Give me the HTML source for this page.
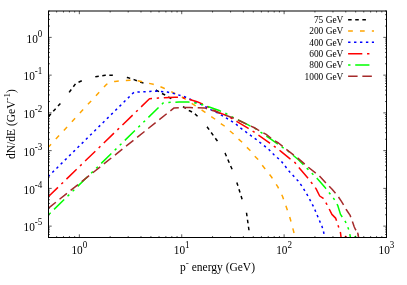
<!DOCTYPE html>
<html><head><meta charset="utf-8"><title>plot</title>
<style>html,body{margin:0;padding:0;background:#fff}svg{display:block;will-change:transform;transform:translateZ(0)}text{font-family:"Liberation Serif",serif;fill:#000}</style></head><body>
<svg width="407" height="285" viewBox="0 0 407 285">
<rect width="407" height="285" fill="#fff"/>
<defs><clipPath id="c"><rect x="48.5" y="11" width="338" height="226.5"/></clipPath></defs>
<g clip-path="url(#c)" fill="none" stroke-width="1.5" stroke-linecap="butt" stroke-linejoin="round">
<polyline points="48.5,116.5 61,102.8 69.6,91.8 75.7,83.5 81.9,80.7 95.4,76.7 105.2,75.3 112.6,75.3 120,76.3 127.4,77.5 134,79.6 143.6,83.2 150,86.5 156.5,90.3 162,93.5 165.7,95.3 171.6,98.8 183.8,107.1 189,110.5 193.7,112.8 197.5,116.2 207.2,127 217,140.5 225,153 232,169 237,183 242.1,199.2 246.5,212.7 249,230.4" stroke="#000000" stroke-dasharray="3.532 3.532 3.532 3.532 3.532 14.13" stroke-dashoffset="0"/>
<polyline points="48.5,147 106.4,84.4 110,82.5 115,81.4 125,80.6 130.3,80.3 137,80.6 141.4,81.5 148.8,83.3 153.2,84.3 159.8,86.5 163.5,88 170.9,91.4 174.6,93.3 181.6,96.8 185.3,99 191.2,103 194.9,105.4 200.8,109.3 205.2,112.3 210.4,116 214.8,119 220,123 224.4,126 229.3,130.5 233,133.5 237.9,138.5 241.6,141.8 246.5,147 250.2,150.5 254.6,156 257.6,159 262,165 264.4,168 271.5,177 277.7,186.7 282.6,196.5 286.3,207 290,218 293.7,231.6 295.1,237.6" stroke="#ffa500" stroke-dasharray="4.726 7.09" stroke-dashoffset="1"/>
<polyline points="48.5,176.3 132.5,93.6 134,92.4 137.7,92.1 149.6,91.4 156.9,91.1 167.2,92.1 174.1,93.5 179,95.1 184.6,96.8 189.7,99 195.6,102 201.5,104.5 206,107 211.1,109.8 217,112.7 221.5,115.2 226.6,118.2 231.8,121.4 236.6,124.7 241.1,128.4 246.2,132.1 250.6,135.4 255.8,139.1 260.2,142.7 264.7,146.1 269.1,149.8 274,154.7 281.2,161.1 289.8,172.1 297.9,180.7 301.9,186.1 307.9,196 313.7,207 318.4,218.1 322.1,226.7 323.8,232.8 324.6,237.6" stroke="#0000ff" stroke-dasharray="2.358 3.537" stroke-dashoffset="0.55"/>
<polyline points="48.5,196.5 149.5,98.8 158.3,98 164.2,97.7 175,97.2 179.4,97.1 185.3,98.3 189.7,99.5 197.1,101.8 203,104.2 211.9,109 217,111.8 219.2,112.7 226.6,115.5 233,119.2 237.4,121.8 248.4,128.4 254.3,132.1 259.5,135.8 269.8,143.2 275,146.9 280.9,151.3 289.8,158.6 294.7,162.3 299.7,168.4 307,177 311.9,183.2 316,188.6 319.7,196 323.3,198.4 327,204.6 331.9,214.4 335.6,218.1 338.1,225.5 340.5,232.8 341.1,237.6" stroke="#ff0000" stroke-dasharray="14.17 4.724 2.362 4.724" stroke-dashoffset="1"/>
<polyline points="48.5,214.8 163.3,102.9 164.8,102.5 171.7,102.3 179,102.1 188.3,102 198.7,103.5 207.4,106.4 219.2,110.5 225.9,113.5 231.5,116.6 238.1,120 247.7,124.7 258,129.9 261,132.4 269.8,138.3 281.6,146.9 287.4,150.5 298.4,159.8 307,168.4 311.9,173.3 318.1,179.5 325.5,188.1 330.4,194.2 334.1,199.1 337.7,205.3 340.5,214.4 345.5,221.8 349.1,230.4 350.5,237.6" stroke="#00ff00" stroke-dasharray="2.353 4.706 14.12 4.706 2.353 4.706" stroke-dashoffset="-0.7"/>
<polyline points="48.5,208.1 173.8,108.1 174.1,107.9 184,107.4 190,107.6 204.5,107.9 211.1,110.1 217,111.8 219.2,113 232.5,117.7 238.1,120 247.7,124.7 253.9,127.5 258,129.9 266.2,134.4 274,140.5 278.5,143 286.3,149.3 288.6,151.2 298.4,158.6 308.3,167.2 319.3,175.8 326.2,183.2 332.1,189.3 338.3,196.7 341.1,200.9 344.5,206.5 346.2,209.5 350,215.1 351.6,219.3 354.2,226.7 355.3,229.2 357.6,232.7 358.7,237.6" stroke="#a52a2a" stroke-dasharray="9.454 4.727" stroke-dashoffset="0.05"/>
<path d="M344.8 237.5 L346.3 235.9" stroke="#ff0000"/><path d="M354.4 237.5 L355.9 235.9" stroke="#00ff00"/><path d="M357.6 232.6 L358.3 235.2" stroke="#a52a2a"/>
</g>
<g stroke="#000" stroke-width="1" fill="none">
<rect x="48.5" y="11" width="338" height="226.5"/>
</g>
<path d="M48.53 237.5 v-1.5 M48.53 11 v1.5 M56.64 237.5 v-1.5 M56.64 11 v1.5 M63.49 237.5 v-1.5 M63.49 11 v1.5 M69.43 237.5 v-1.5 M69.43 11 v1.5 M74.67 237.5 v-1.5 M74.67 11 v1.5 M79.35 237.5 v-3.2 M79.35 11 v3.2 M110.17 237.5 v-1.5 M110.17 11 v1.5 M128.20 237.5 v-1.5 M128.20 11 v1.5 M140.99 237.5 v-1.5 M140.99 11 v1.5 M150.91 237.5 v-1.5 M150.91 11 v1.5 M159.02 237.5 v-1.5 M159.02 11 v1.5 M165.87 237.5 v-1.5 M165.87 11 v1.5 M171.81 237.5 v-1.5 M171.81 11 v1.5 M177.05 237.5 v-1.5 M177.05 11 v1.5 M181.73 237.5 v-3.2 M181.73 11 v3.2 M212.55 237.5 v-1.5 M212.55 11 v1.5 M230.58 237.5 v-1.5 M230.58 11 v1.5 M243.37 237.5 v-1.5 M243.37 11 v1.5 M253.29 237.5 v-1.5 M253.29 11 v1.5 M261.40 237.5 v-1.5 M261.40 11 v1.5 M268.25 237.5 v-1.5 M268.25 11 v1.5 M274.19 237.5 v-1.5 M274.19 11 v1.5 M279.43 237.5 v-1.5 M279.43 11 v1.5 M284.11 237.5 v-3.2 M284.11 11 v3.2 M314.93 237.5 v-1.5 M314.93 11 v1.5 M332.96 237.5 v-1.5 M332.96 11 v1.5 M345.75 237.5 v-1.5 M345.75 11 v1.5 M355.67 237.5 v-1.5 M355.67 11 v1.5 M363.78 237.5 v-1.5 M363.78 11 v1.5 M370.63 237.5 v-1.5 M370.63 11 v1.5 M376.57 237.5 v-1.5 M376.57 11 v1.5 M381.81 237.5 v-1.5 M381.81 11 v1.5 M386.49 237.5 v-3.2 M386.49 11 v3.2 M48.5 237.50 h1.5 M386.5 237.50 h-1.5 M48.5 234.51 h1.5 M386.5 234.51 h-1.5 M48.5 231.99 h1.5 M386.5 231.99 h-1.5 M48.5 229.80 h1.5 M386.5 229.80 h-1.5 M48.5 227.87 h1.5 M386.5 227.87 h-1.5 M48.5 226.14 h3.2 M386.5 226.14 h-3.2 M48.5 214.78 h1.5 M386.5 214.78 h-1.5 M48.5 208.13 h1.5 M386.5 208.13 h-1.5 M48.5 203.41 h1.5 M386.5 203.41 h-1.5 M48.5 199.75 h1.5 M386.5 199.75 h-1.5 M48.5 196.76 h1.5 M386.5 196.76 h-1.5 M48.5 194.24 h1.5 M386.5 194.24 h-1.5 M48.5 192.05 h1.5 M386.5 192.05 h-1.5 M48.5 190.12 h1.5 M386.5 190.12 h-1.5 M48.5 188.39 h3.2 M386.5 188.39 h-3.2 M48.5 177.03 h1.5 M386.5 177.03 h-1.5 M48.5 170.38 h1.5 M386.5 170.38 h-1.5 M48.5 165.66 h1.5 M386.5 165.66 h-1.5 M48.5 162.00 h1.5 M386.5 162.00 h-1.5 M48.5 159.01 h1.5 M386.5 159.01 h-1.5 M48.5 156.49 h1.5 M386.5 156.49 h-1.5 M48.5 154.30 h1.5 M386.5 154.30 h-1.5 M48.5 152.37 h1.5 M386.5 152.37 h-1.5 M48.5 150.64 h3.2 M386.5 150.64 h-3.2 M48.5 139.28 h1.5 M386.5 139.28 h-1.5 M48.5 132.63 h1.5 M386.5 132.63 h-1.5 M48.5 127.91 h1.5 M386.5 127.91 h-1.5 M48.5 124.25 h1.5 M386.5 124.25 h-1.5 M48.5 121.26 h1.5 M386.5 121.26 h-1.5 M48.5 118.74 h1.5 M386.5 118.74 h-1.5 M48.5 116.55 h1.5 M386.5 116.55 h-1.5 M48.5 114.62 h1.5 M386.5 114.62 h-1.5 M48.5 112.89 h3.2 M386.5 112.89 h-3.2 M48.5 101.53 h1.5 M386.5 101.53 h-1.5 M48.5 94.88 h1.5 M386.5 94.88 h-1.5 M48.5 90.16 h1.5 M386.5 90.16 h-1.5 M48.5 86.50 h1.5 M386.5 86.50 h-1.5 M48.5 83.51 h1.5 M386.5 83.51 h-1.5 M48.5 80.99 h1.5 M386.5 80.99 h-1.5 M48.5 78.80 h1.5 M386.5 78.80 h-1.5 M48.5 76.87 h1.5 M386.5 76.87 h-1.5 M48.5 75.14 h3.2 M386.5 75.14 h-3.2 M48.5 63.78 h1.5 M386.5 63.78 h-1.5 M48.5 57.13 h1.5 M386.5 57.13 h-1.5 M48.5 52.41 h1.5 M386.5 52.41 h-1.5 M48.5 48.75 h1.5 M386.5 48.75 h-1.5 M48.5 45.76 h1.5 M386.5 45.76 h-1.5 M48.5 43.24 h1.5 M386.5 43.24 h-1.5 M48.5 41.05 h1.5 M386.5 41.05 h-1.5 M48.5 39.12 h1.5 M386.5 39.12 h-1.5 M48.5 37.39 h3.2 M386.5 37.39 h-3.2 M48.5 26.03 h1.5 M386.5 26.03 h-1.5 M48.5 19.38 h1.5 M386.5 19.38 h-1.5 M48.5 14.66 h1.5 M386.5 14.66 h-1.5 M48.5 11.00 h1.5 M386.5 11.00 h-1.5" stroke="#000" stroke-width="0.65" fill="none"/>
<text transform="translate(79.35,254.40) scale(1,1.08)" font-size="11.3" text-anchor="middle">10<tspan font-size="9.04" dy="-5.6">0</tspan></text>
<text transform="translate(181.73,254.40) scale(1,1.08)" font-size="11.3" text-anchor="middle">10<tspan font-size="9.04" dy="-5.6">1</tspan></text>
<text transform="translate(284.11,254.40) scale(1,1.08)" font-size="11.3" text-anchor="middle">10<tspan font-size="9.04" dy="-5.6">2</tspan></text>
<text transform="translate(386.49,254.40) scale(1,1.08)" font-size="11.3" text-anchor="middle">10<tspan font-size="9.04" dy="-5.6">3</tspan></text>
<text transform="translate(42.30,231.44) scale(1,1.08)" font-size="11.3" text-anchor="end">10<tspan font-size="9.04" dy="-5.6">-5</tspan></text>
<text transform="translate(42.30,193.69) scale(1,1.08)" font-size="11.3" text-anchor="end">10<tspan font-size="9.04" dy="-5.6">-4</tspan></text>
<text transform="translate(42.30,155.94) scale(1,1.08)" font-size="11.3" text-anchor="end">10<tspan font-size="9.04" dy="-5.6">-3</tspan></text>
<text transform="translate(42.30,118.19) scale(1,1.08)" font-size="11.3" text-anchor="end">10<tspan font-size="9.04" dy="-5.6">-2</tspan></text>
<text transform="translate(42.30,80.44) scale(1,1.08)" font-size="11.3" text-anchor="end">10<tspan font-size="9.04" dy="-5.6">-1</tspan></text>
<text transform="translate(42.30,42.69) scale(1,1.08)" font-size="11.3" text-anchor="end">10<tspan font-size="9.04" dy="-5.6">0</tspan></text>
<text x="217.5" y="271.1" font-size="11.5" text-anchor="middle">p<tspan font-size="9.2" dy="-4.9">-</tspan><tspan dy="4.9"> energy (GeV)</tspan></text>
<text transform="translate(15.3,124) rotate(-90)" font-size="11.5" text-anchor="middle">dN/dE (GeV<tspan font-size="9.2" dy="-4.9">-1</tspan><tspan dy="4.9">)</tspan></text>
<text x="343.4" y="23.15" font-size="9.4" text-anchor="end">75 GeV</text>
<path d="M348.1 19.65 H374" stroke="#000000" stroke-width="1.5" stroke-dasharray="3.56 3.56 3.56 3.56 3.56 14.2" stroke-dashoffset="0" fill="none"/>
<text x="343.4" y="34.48" font-size="9.4" text-anchor="end">200 GeV</text>
<path d="M348.1 30.98 H374" stroke="#ffa500" stroke-width="1.5" stroke-dasharray="4.75 7.12" stroke-dashoffset="0" fill="none"/>
<text x="343.4" y="45.81" font-size="9.4" text-anchor="end">400 GeV</text>
<path d="M348.1 42.31 H374" stroke="#0000ff" stroke-width="1.5" stroke-dasharray="2.38 3.56" stroke-dashoffset="0" fill="none"/>
<text x="343.4" y="57.14" font-size="9.4" text-anchor="end">600 GeV</text>
<path d="M348.1 53.64 H374" stroke="#ff0000" stroke-width="1.5" stroke-dasharray="14.2 4.75 2.38 4.75" stroke-dashoffset="0" fill="none"/>
<text x="343.4" y="68.47" font-size="9.4" text-anchor="end">800 GeV</text>
<path d="M348.1 64.97 H374" stroke="#00ff00" stroke-width="1.5" stroke-dasharray="2.38 4.75 14.2 4.75 2.38 4.75" stroke-dashoffset="0" fill="none"/>
<text x="343.4" y="79.8" font-size="9.4" text-anchor="end">1000 GeV</text>
<path d="M348.1 76.3 H374" stroke="#a52a2a" stroke-width="1.5" stroke-dasharray="9.5 4.75" stroke-dashoffset="0" fill="none"/>
</svg></body></html>
